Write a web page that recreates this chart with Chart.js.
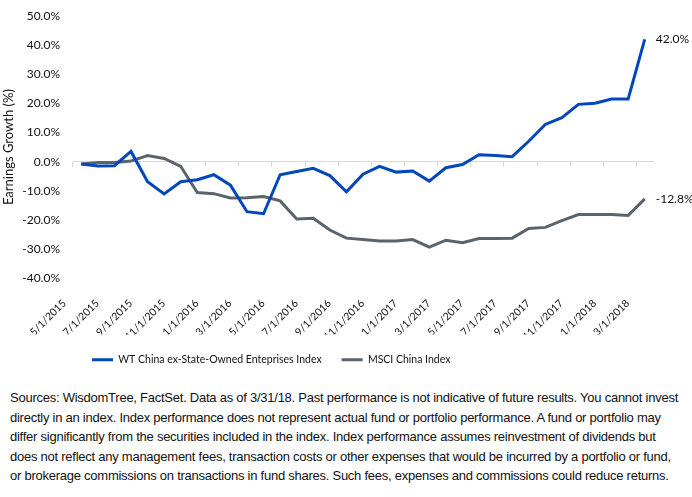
<!DOCTYPE html>
<html>
<head>
<meta charset="utf-8">
<script src="https://cdn.jsdelivr.net/npm/chart.js@4.4.0/dist/chart.umd.min.js"></script>
<style>
  html, body { margin: 0; padding: 0; background: #fff; }
  #wrap { position: relative; width: 692px; height: 497px; overflow: hidden; }
  #chart { position: absolute; left: 0; top: -4px; }
  #note {
    position: absolute; left: 10px; top: 388px;
    font-family: "Liberation Sans", Arial, sans-serif;
    font-size: 13px; line-height: 19.5px; color: #111;
    letter-spacing: -0.25px; white-space: nowrap;
  }
</style>
</head>
<body>
<div id="wrap">
  <canvas id="chart" width="692" height="379"></canvas>
  <div id="note">
    Sources: WisdomTree, FactSet. Data as of 3/31/18. Past performance is not indicative of future results. You cannot invest<br>
    directly in an index. Index performance does not represent actual fund or portfolio performance. A fund or portfolio may<br>
    differ significantly from the securities included in the index. Index performance assumes reinvestment of dividends but<br>
    does not reflect any management fees, transaction costs or other expenses that would be incurred by a portfolio or fund,<br>
    or brokerage commissions on transactions in fund shares. Such fees, expenses and commissions could reduce returns.
  </div>
</div>
<script>
const months = [
  '5/1/2015', '6/1/2015', '7/1/2015', '8/1/2015', '9/1/2015', '10/1/2015', '11/1/2015', '12/1/2015',
  '1/1/2016', '2/1/2016', '3/1/2016', '4/1/2016', '5/1/2016', '6/1/2016', '7/1/2016', '8/1/2016',
  '9/1/2016', '10/1/2016', '11/1/2016', '12/1/2016', '1/1/2017', '2/1/2017', '3/1/2017', '4/1/2017',
  '5/1/2017', '6/1/2017', '7/1/2017', '8/1/2017', '9/1/2017', '10/1/2017', '11/1/2017', '12/1/2017',
  '1/1/2018', '2/1/2018', '3/1/2018'
];

const wtChina = [
  -0.8, -1.5, -1.4, 3.5, -6.9, -11.1, -6.9, -6.2, -4.5, -8.1, -17.2, -17.9,
  -4.5, -3.4, -2.3, -4.8, -10.4, -4.3, -1.6, -3.6, -3.2, -6.7, -2.1, -1.0,
  2.4, 2.1, 1.7, 7.0, 12.8, 15.1, 19.7, 20.1, 21.5, 21.5, 42.0
];

const msciChina = [
  -0.8, -0.3, -0.3, 0.2, 2.1, 1.1, -1.6, -10.6, -11.0, -12.5, -12.4, -12.0,
  -13.5, -19.7, -19.5, -23.5, -26.3, -26.8, -27.3, -27.3, -26.8, -29.4, -27.0, -27.9,
  -26.4, -26.4, -26.3, -23.0, -22.6, -20.3, -18.2, -18.2, -18.2, -18.5, -12.8
];

const seriesNames = ['WT China ex-State-Owned Enteprises Index', 'MSCI China Index'];
const seriesColors = ['#0047BB', '#5B646C'];

const yMin = -40;
const yMax = 50;
const yStep = 10;

const font = 'Lato, "Open Sans", sans-serif';

// value labels at the last point of each line
const endLabels = {
  id: 'endLabels',
  afterDatasetsDraw(chart) {
    const ctx = chart.ctx;
    ctx.save();
    ctx.font = '12px ' + font;
    ctx.fillStyle = '#111';
    ctx.textAlign = 'left';
    ctx.textBaseline = 'middle';
    chart.data.datasets.forEach((ds, i) => {
      const meta = chart.getDatasetMeta(i);
      const last = meta.data[meta.data.length - 1];
      const v = ds.data[ds.data.length - 1];
      ctx.fillText(v.toFixed(1) + '%', last.x + 11, last.y);
    });
    ctx.restore();
  }
};

// legend starts under the left part of the plot, not centred
const legendShift = {
  id: 'legendShift',
  afterLayout(chart) {
    chart.legend.left = 72;
  }
};

new Chart(document.getElementById('chart'), {
  type: 'line',
  data: {
    labels: months,
    datasets: [
      {
        label: seriesNames[0],
        data: wtChina,
        borderColor: seriesColors[0],
        backgroundColor: seriesColors[0],
        borderWidth: 3,
        pointRadius: 0,
        pointStyle: 'line',
        tension: 0
      },
      {
        label: seriesNames[1],
        data: msciChina,
        borderColor: seriesColors[1],
        backgroundColor: seriesColors[1],
        borderWidth: 3,
        pointRadius: 0,
        pointStyle: 'line',
        tension: 0
      }
    ]
  },
  options: {
    responsive: false,
    animation: false,
    layout: { padding: { top: 10.5, right: 39, left: 0, bottom: 0 } },
    plugins: {
      tooltip: { enabled: false },
      legend: {
        position: 'bottom',
        align: 'start',
        labels: {
          usePointStyle: true,
          pointStyleWidth: 21,
          boxHeight: 3,
          padding: 20,
          color: '#111',
          font: { family: font, size: 10.5 }
        }
      }
    },
    scales: {
      x: {
        type: 'category',
        position: 'bottom',
        offset: true,
        grid: { display: false },
        border: { display: false },
        afterFit(scale) { scale.height = 56.5; },
        ticks: {
          autoSkip: false,
          maxRotation: 45,
          minRotation: 45,
          padding: 11,
          labelOffset: -17,
          color: '#111',
          font: { family: font, size: 10.5 },
          callback(value, index) {
            return index % 2 === 0 ? months[index] : '';
          }
        }
      },
      x2: {
        type: 'category',
        position: { y: 0 },
        offset: true,
        grid: {
          offset: true,
          drawOnChartArea: false,
          tickLength: 5,
          lineWidth: 1,
          color: ctx => (ctx.index % 2 === 0 ? '#d9d9d9' : 'rgba(0,0,0,0)')
        },
        border: { display: true, color: '#d9d9d9', width: 1 },
        ticks: { display: false, autoSkip: false }
      },
      y: {
        min: yMin,
        max: yMax,
        afterFit(scale) { scale.width = 73; },
        grid: { display: false, drawTicks: false },
        border: { display: false },
        title: {
          display: true,
          text: 'Earnings Growth (%)',
          color: '#111',
          padding: { top: 1, bottom: 0 },
          font: { family: font, size: 13 }
        },
        ticks: {
          stepSize: yStep,
          padding: 13,
          color: '#111',
          font: { family: font, size: 12 },
          callback: v => v.toFixed(1) + '%'
        }
      }
    }
  },
  plugins: [endLabels, legendShift]
});
</script>
</body>
</html>
